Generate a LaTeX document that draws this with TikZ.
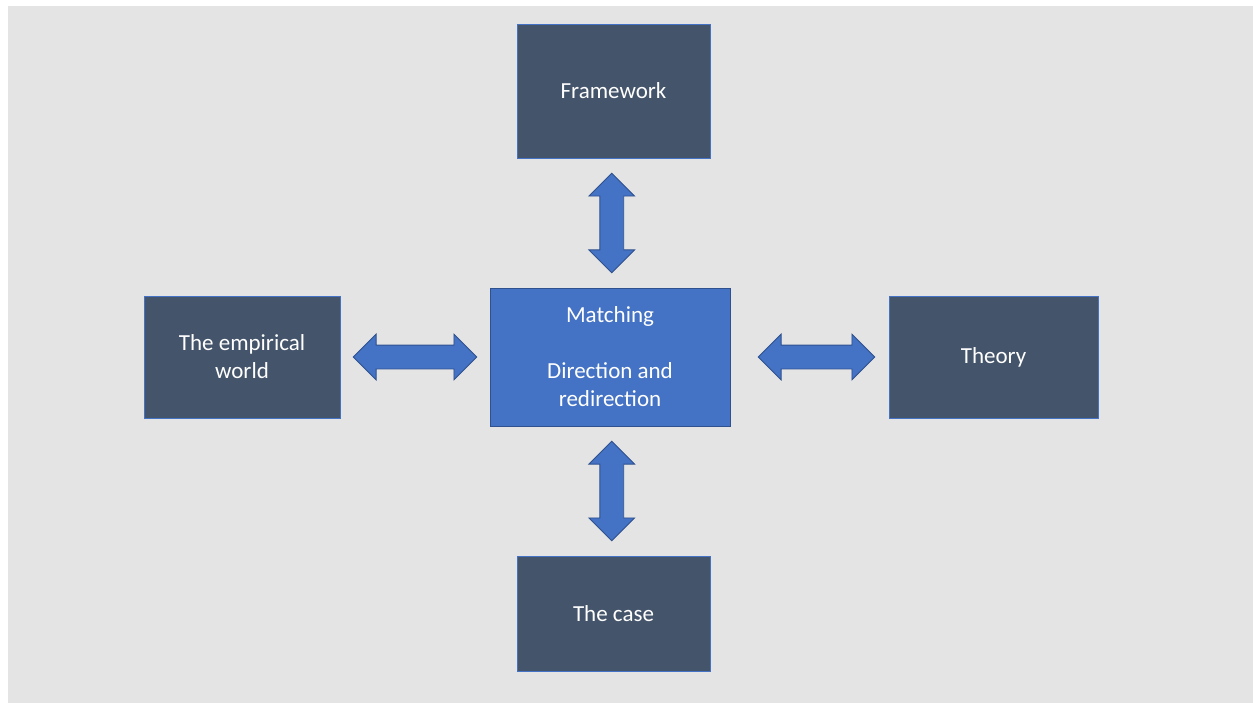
\documentclass[tikz,border=0pt]{standalone}
\usepackage{fontspec}
\setmainfont{Carlito}
\usetikzlibrary{shapes.arrows,calc}
\definecolor{pagegray}{HTML}{E4E4E4}
\definecolor{slatebox}{HTML}{44546A}
\definecolor{accent}{HTML}{4472C4}
\definecolor{accentdark}{HTML}{2F528F}
\begin{document}
\begin{tikzpicture}[x=1pt,y=-1pt,
  textstyle/.style={text=white,font=\fontsize{23}{28}\selectfont,align=center},
  darkbox/.style={textstyle,rectangle,fill=slatebox,draw=accent,line width=0.8pt,inner sep=0pt},
  midbox/.style={textstyle,rectangle,fill=accent,draw=accentdark,line width=0.8pt,inner sep=0pt},
  link/.style={double arrow,fill=accent,draw=accentdark,line width=0.8pt,
    double arrow tip angle=90,double arrow head extend=11pt,
    inner ysep=11.5pt,minimum width=0pt,minimum height=0pt,outer sep=0pt}
]
% canvas
\useasboundingbox (0,0) rectangle (1253,703);
\fill[white] (0,0) rectangle (1253,703);
\fill[pagegray] (8,6) rectangle (1253,703);

% boxes
\node[darkbox,minimum width=193pt,minimum height=134pt] (fw) at (613.5,91) {Framework};
\node[darkbox,minimum width=196pt,minimum height=122pt] (emp) at (242,357) {The empirical\\world};
\node[darkbox,minimum width=209pt,minimum height=122pt] (thy) at (993.5,357) {Theory};
\node[darkbox,minimum width=193pt,minimum height=115pt] (case) at (613.5,613.5) {The case};
\node[midbox,minimum width=240pt,minimum height=138pt] (mid) at (610,357) {Matching\\[28pt]Direction and\\redirection};

% two-way links between the boxes
\node[link,rotate=90,inner xsep=37.5pt] (aTop) at ($(fw.south)!0.5!(mid.north)$) {};
\node[link,rotate=90,inner xsep=37.5pt] (aBot) at ($(mid.south)!0.5!(case.north)$) {};
\node[link,inner xsep=49.5pt] (aLeft) at ($(emp.east)!0.5!(mid.west)$) {};
\node[link,inner xsep=46pt] (aRight) at ($(mid.east)!0.5!(thy.west)+(7,0)$) {};
\end{tikzpicture}
\end{document}
